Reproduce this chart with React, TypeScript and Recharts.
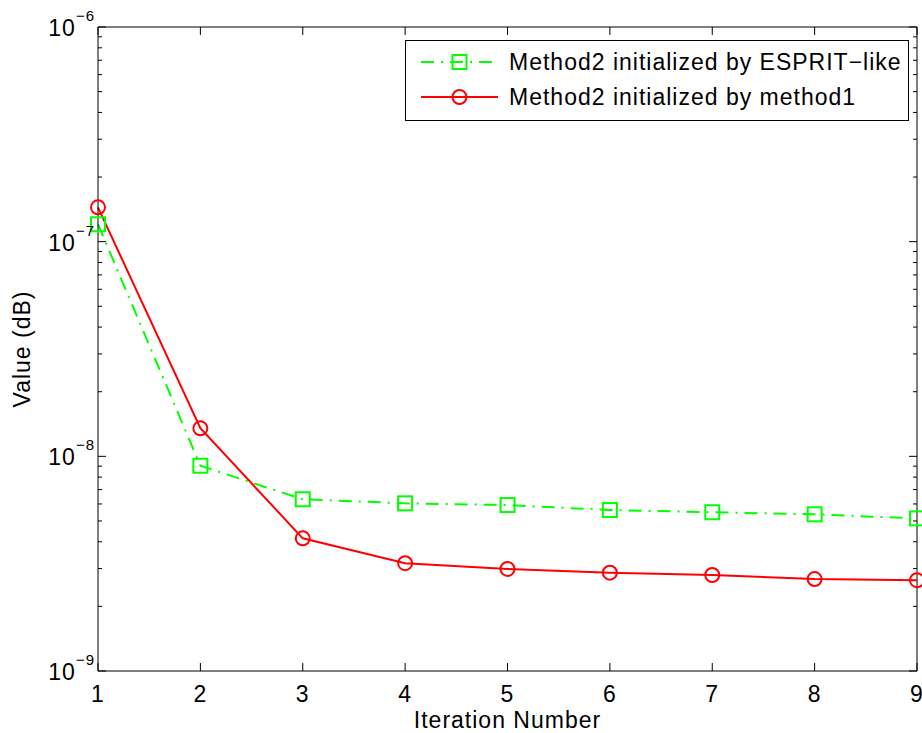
import { LineChart, Line, XAxis, YAxis, ReferenceLine } from "recharts";

const iterations = [1, 2, 3, 4, 5, 6, 7, 8, 9];
const espritValues = [1.205e-7, 9.04e-9, 6.31e-9, 6.04e-9, 5.93e-9, 5.62e-9, 5.49e-9, 5.37e-9, 5.14e-9];
const method1Values = [1.445e-7, 1.351e-8, 4.15e-9, 3.18e-9, 2.99e-9, 2.87e-9, 2.8e-9, 2.68e-9, 2.65e-9];
const seriesNames = ["Method2 initialized by ESPRIT\u2212like", "Method2 initialized by method1"];
const decadeExponents = [-9, -8, -7, -6];
const minorMultipliers = [2, 3, 4, 5, 6, 7, 8, 9];

const W = 922;
const H = 733;
const margin = { top: 27, right: 5, left: 8, bottom: 0 };
const Y_AXIS_W = 90;
const X_AXIS_H = 62;
const PLOT_RIGHT = W - margin.right;
const PLOT_TOP = margin.top;
const FONT = "'Liberation Sans', Arial, Helvetica, sans-serif";
const FS = 23;
const LS = 1;
const GREEN = "#00ff00";
const RED = "#ff0000";

const data = iterations.map((it, i) => ({
  iter: it,
  esprit: espritValues[i],
  method1: method1Values[i],
}));

// major ticks at each decade, minor ticks at 2..9 x decade
const yTicks: number[] = [];
decadeExponents.forEach((e) => {
  yTicks.push(Math.pow(10, e));
  if (e < -6) minorMultipliers.forEach((m) => yTicks.push(m * Math.pow(10, e)));
});

const YTick = (props: any) => {
  const { x, y, payload } = props;
  const exp = Math.log10(payload.value);
  const major = Math.abs(exp - Math.round(exp)) < 1e-6;
  const len = major ? 8 : 4;
  return (
    <g>
      <line x1={x} x2={x + len} y1={y} y2={y} stroke="#000" strokeWidth={1} />
      <line x1={PLOT_RIGHT} x2={PLOT_RIGHT - len} y1={y} y2={y} stroke="#000" strokeWidth={1} />
      {major && (
        <text x={x - 3} y={y + 9} textAnchor="end" fontFamily={FONT} fontSize={FS} letterSpacing={LS} fill="#000">
          <tspan>10</tspan>
          <tspan dy={-15} fontSize={15}>{`\u2212${-Math.round(exp)}`}</tspan>
        </text>
      )}
    </g>
  );
};

const XTick = (props: any) => {
  const { x, y, payload } = props;
  return (
    <g>
      <line x1={x} x2={x} y1={y} y2={y - 8} stroke="#000" strokeWidth={1} />
      <line x1={x} x2={x} y1={PLOT_TOP} y2={PLOT_TOP + 8} stroke="#000" strokeWidth={1} />
      <text x={x} y={y + 31} textAnchor="middle" fontFamily={FONT} fontSize={FS} letterSpacing={LS} fill="#000">
        {payload.value}
      </text>
    </g>
  );
};

const SquareDot = (props: any) => {
  const { cx, cy, index } = props;
  return (
    <rect key={`sq-${index}`} x={cx - 7} y={cy - 7} width={14} height={14} fill="none" stroke={GREEN} strokeWidth={2} />
  );
};

const YLabel = (props: any) => {
  const vb = props.viewBox;
  const cy = vb.y + vb.height / 2;
  return (
    <text
      x={30}
      y={cy}
      transform={`rotate(-90, 30, ${cy})`}
      textAnchor="middle"
      fontFamily={FONT}
      fontSize={FS}
      letterSpacing={LS}
      fill="#000"
    >
      Value (dB)
    </text>
  );
};

const LegendBox = () => (
  <svg width={504} height={81} style={{ position: "absolute", left: 405, top: 40 }}>
    <rect x={0.5} y={0.5} width={503} height={80} fill="#fff" stroke="#000" strokeWidth={1} />
    <line x1={16} x2={93} y1={22} y2={22} stroke={GREEN} strokeWidth={2} strokeDasharray="13 7 2 7" />
    <rect x={47.5} y={15} width={14} height={14} fill="none" stroke={GREEN} strokeWidth={2} />
    <text x={104} y={30} fontFamily={FONT} fontSize={FS} letterSpacing={LS} fill="#000">
      {seriesNames[0]}
    </text>
    <line x1={16} x2={93} y1={57} y2={57} stroke={RED} strokeWidth={2} />
    <circle cx={54.5} cy={57} r={7} fill="none" stroke={RED} strokeWidth={2} />
    <text x={104} y={65} fontFamily={FONT} fontSize={FS} letterSpacing={LS} fill="#000">
      {seriesNames[1]}
    </text>
  </svg>
);

export default function App() {
  return (
    <div style={{ position: "relative", width: W, height: H, background: "#fff" }}>
      <style>{`body{margin:0;}`}</style>
      <LineChart width={W} height={H} data={data} margin={margin}>
        <XAxis
          dataKey="iter"
          type="number"
          domain={[1, 9]}
          ticks={iterations}
          interval={0}
          height={X_AXIS_H}
          tickSize={0}
          tickMargin={0}
          tickLine={false}
          axisLine={{ stroke: "#000", strokeWidth: 1 }}
          tick={<XTick />}
          label={{
            value: "Iteration Number",
            position: "insideBottom",
            offset: 5,
            style: { fontFamily: FONT, fontSize: FS, letterSpacing: LS, fill: "#000" },
          }}
        />
        <YAxis
          type="number"
          scale="log"
          domain={[1e-9, 1e-6]}
          allowDataOverflow
          ticks={yTicks}
          interval={0}
          width={Y_AXIS_W}
          tickSize={0}
          tickMargin={0}
          tickLine={false}
          axisLine={{ stroke: "#000", strokeWidth: 1 }}
          tick={<YTick />}
          label={<YLabel />}
        />
        <ReferenceLine y={1e-6} stroke="#000" strokeWidth={1} />
        <ReferenceLine x={9} stroke="#000" strokeWidth={1} />
        <Line
          dataKey="esprit"
          name={seriesNames[0]}
          stroke={GREEN}
          strokeWidth={2}
          strokeDasharray="13 7 2 7"
          dot={<SquareDot />}
          activeDot={false}
          isAnimationActive={false}
        />
        <Line
          dataKey="method1"
          name={seriesNames[1]}
          stroke={RED}
          strokeWidth={2}
          dot={{ r: 7, fill: "none", stroke: RED, strokeWidth: 2 }}
          activeDot={false}
          isAnimationActive={false}
        />
      </LineChart>
      <LegendBox />
    </div>
  );
}
